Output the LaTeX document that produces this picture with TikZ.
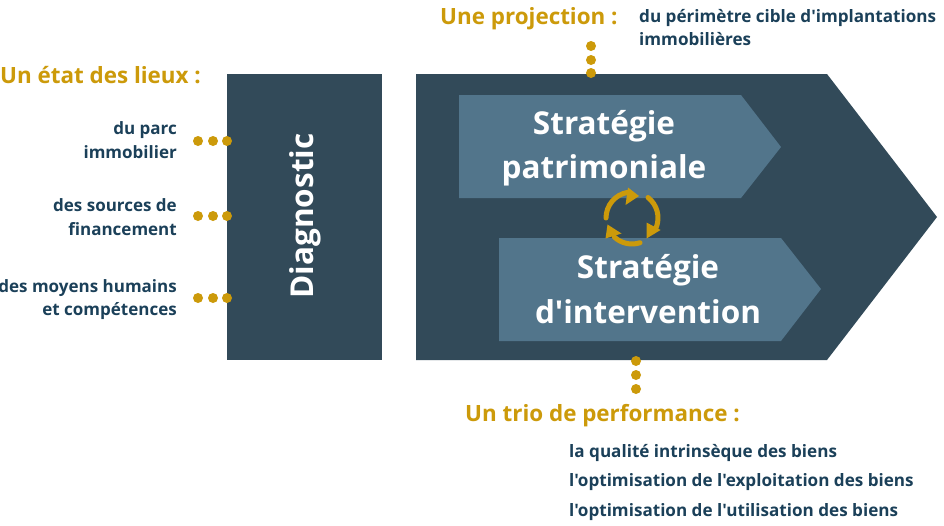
\documentclass[tikz,border=0pt]{standalone}
\usepackage{fontspec}
\newfontfamily\rw{Open Sans}
\definecolor{dark}{HTML}{324A59}
\definecolor{mid}{HTML}{52758B}
\definecolor{gold}{HTML}{CC9A0A}
\definecolor{navy}{HTML}{1B4059}
\tikzset{
  head/.style={text=gold,font=\rw\fontsize{22.4}{26}\selectfont\bfseries,inner sep=0pt,anchor=west},
  item/.style={text=navy,font=\rw\fontsize{17}{23.5}\selectfont\bfseries,inner sep=0pt,align=right,anchor=east},
  lineitem/.style={text=navy,font=\rw\fontsize{17.1}{23}\selectfont\bfseries,inner sep=0pt,anchor=west},
  big/.style={text=white,font=\rw\fontsize{31.5}{44.5}\selectfont\bfseries,inner sep=0pt,align=center},
  dot/.style={circle,fill=gold,inner sep=0pt,minimum size=10pt},
  arrowshape/.style={fill=mid},
  cyc/.style={draw=gold,line width=5pt,line cap=round},
}
\begin{document}
\begin{tikzpicture}[x=1pt,y=-1pt]
\useasboundingbox (0,0) rectangle (944,525);
\fill[white] (0,0) rectangle (944,525);
\fill[dark] (227,74) rectangle (382,360);
\fill[dark] (416,74) -- (827,74) -- (937,217) -- (827,360) -- (416,360) -- cycle;
\fill[arrowshape] (459,95) -- (741,95) -- (781,147) -- (741,198) -- (459,198) -- cycle;
\fill[arrowshape] (499,238) -- (781,238) -- (821,289) -- (781,341) -- (499,341) -- cycle;
\node[big] (sp) at (604,148) {Stratégie\\patrimoniale};
\node[big] (si) at (648,289) {Stratégie\\d'intervention};
\node[big,rotate=90] (diag) at (305.5,216) {Diagnostic};
% cycle icon
\coordinate (cc) at (632,218);
\draw[cyc] ([shift={(-180:26)}]cc) arc[start angle=-180,end angle=-100,radius=26];
\fill[gold] (628,187.5) -- (639,196) -- (625.5,205) -- cycle;
\draw[cyc] ([shift={(-52:26)}]cc) arc[start angle=-52,end angle=22,radius=26];
\fill[gold] (646.5,222.5) -- (660.5,230) -- (646.5,238.5) -- cycle;
\draw[cyc] ([shift={(72:26)}]cc) arc[start angle=72,end angle=133,radius=26];
\fill[gold] (607.5,224.5) -- (605.5,238.5) -- (621.5,233.5) -- cycle;
% headings
\node[head] (h1) at (0,75) {Un état des lieux :};
\node[head] (h2) at (440,19) {Une projection :};
\node[head] (h3) at (465,416) {Un trio de performance :};
% left items
\node[item] (i1) at (177,140) {du parc\\immobilier};
\node[item] (i2) at (177,217) {des sources de\\financement};
\node[item] (i3) at (177,299.5) {des moyens humains\\et compétences};
\node[lineitem,align=left,anchor=north west] (p) at (639,9) {du périmètre cible d'implantations\\immobilières};
\node[lineitem] (l1) at (569,453) {la qualité intrinsèque des biens};
\node[lineitem] (l2) at (569,482) {l'optimisation de l'exploitation des biens};
\node[lineitem] (l3) at (569,512) {l'optimisation de l'utilisation des biens};
% dots
\foreach \n/\y in {a/141,b/216,c/298}{
  \node[dot] (\n1) at (198,\y) {};
  \node[dot] (\n2) at (213,\y) {};
  \node[dot] (\n3) at (227,\y) {};
}
\foreach \y [count=\i] in {46,60,73}{\node[dot] (t\i) at (591,\y) {};}
\foreach \y [count=\i] in {361,375,389}{\node[dot] (u\i) at (636,\y) {};}
\end{tikzpicture}
\end{document}
